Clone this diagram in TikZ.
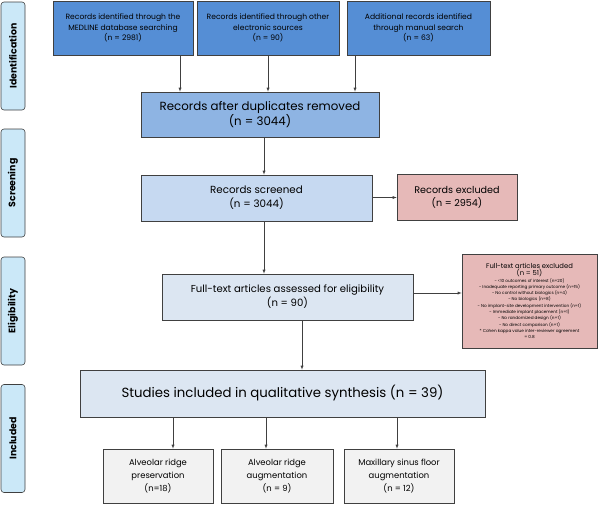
\documentclass[tikz,border=0pt]{standalone}
\usepackage{fontspec}
\setmainfont{Poppins}
\usepackage{tikz}
\usetikzlibrary{positioning}

\definecolor{idblue}{HTML}{558ED5}
\definecolor{dupblue}{HTML}{8EB4E3}
\definecolor{scrblue}{HTML}{C6D9F1}
\definecolor{paleblue}{HTML}{DCE6F2}
\definecolor{exclred}{HTML}{E6B9B8}
\definecolor{incgray}{HTML}{F2F2F2}
\definecolor{sideblue}{HTML}{CBE8F8}
\definecolor{edge}{HTML}{404040}

\begin{document}
\begin{tikzpicture}[
  x=1pt, y=-1pt,
  every node/.style={rectangle, draw=edge, line width=0.6pt, align=center, inner sep=2pt},
  idbox/.style={fill=idblue, minimum height=54pt, font=\fontsize{7.6}{10.5}\selectfont},
  exclbox/.style={fill=exclred},
  incbox/.style={fill=incgray, minimum width=110pt, minimum height=54pt, font=\fontsize{8.4}{13}\selectfont},
  phase/.style={rounded corners=3pt, fill=sideblue, rotate=90, minimum width=108pt, minimum height=24pt, font=\bfseries\fontsize{9.4}{10}\selectfont},
  >=latex
]
\useasboundingbox (0,0) rectangle (600,504);

% phase labels
\node[phase] (pid) at (13,56) {Identification};
\node[phase] (pscr) at (13,183) {Screening};
\node[phase] (pelig) at (13,311) {Eligibility};
\node[phase] (pinc) at (13,438.5) {Included};

% identification
\node[idbox, minimum width=140pt] (medline) at (123,28) {Records identified through the\\MEDLINE database searching\\(n = 2981)};
\node[idbox, minimum width=142pt] (other) at (268,28) {Records identified through other\\electronic sources\\(n = 90)};
\node[idbox, minimum width=143pt] (manual) at (418.5,28) {Additional records identified\\through manual search\\(n = 63)};
\node[fill=dupblue, minimum width=238pt, minimum height=45pt, font=\fontsize{11.8}{15}\selectfont] (dup) at (260,114.5) {Records after duplicates removed\\(n = 3044)};

% screening
\node[fill=scrblue, minimum width=231pt, minimum height=46pt, font=\fontsize{10.3}{14}\selectfont] (scr) at (256.5,198) {Records screened\\(n = 3044)};
\node[exclbox, minimum width=120pt, minimum height=46pt, font=\fontsize{9.6}{13}\selectfont] (excl) at (457,197) {Records excluded\\(n = 2954)};

% eligibility
\node[fill=paleblue, minimum width=251pt, minimum height=46pt, font=\fontsize{10.1}{14}\selectfont] (full) at (287.5,297) {Full-text articles assessed for eligibility\\(n = 90)};
\node[exclbox, minimum width=135pt, minimum height=94pt, font=\fontsize{4.2}{6.3}\selectfont] (fexcl) at (529.5,301) {{\fontsize{6.8}{7.5}\selectfont Full-text articles excluded}\\{\fontsize{6.8}{7.5}\selectfont (n = 51)}\\- <10 outcomes of interest (n=20)\\- Inadequate reporting primary outcome (n=15)\\- No control without biologics (n=4)\\- No biologics (n=8)\\- No implant-site development intervention (n=1)\\- Immediate implant placement (n=1)\\- No randomized design (n=1)\\- No direct comparison (n=1)\\* Cohen kappa value inter-reviewer agreement\\= 0.8};

% included
\node[fill=paleblue, minimum width=405pt, minimum height=47pt, font=\fontsize{13.3}{15}\selectfont] (stud) at (282.5,393.5) {Studies included in qualitative synthesis (n = 39)};
\node[incbox] (pres) at (158,476) {Alveolar ridge\\preservation\\(n=18)};
\node[incbox, minimum width=112pt] (aug) at (277,476) {Alveolar ridge\\augmentation\\(n = 9)};
\node[incbox] (sinus) at (399,476) {Maxillary sinus floor\\augmentation\\(n = 12)};

\draw[->, edge] (180,0 |- medline.south) -- (180,0 |- dup.north);
\draw[->, edge] (268,0 |- other.south) -- (268,0 |- dup.north);
\draw[->, edge] (355,0 |- manual.south) -- (355,0 |- dup.north);
\draw[->, edge] (264,0 |- dup.south) -- (264,0 |- scr.north);
\draw[->, edge] (scr.east |- 0,197.5) -- (excl.west |- 0,197.5);
\draw[->, edge] (264,0 |- scr.south) -- (264,0 |- full.north);
\draw[->, edge] (full.east |- 0,293) -- (fexcl.west |- 0,293);
\draw[->, edge] (302,0 |- full.south) -- (302,0 |- stud.north);
\draw[->, edge] (173,0 |- stud.south) -- (173,0 |- pres.north);
\draw[->, edge] (266,0 |- stud.south) -- (266,0 |- aug.north);
\draw[->, edge] (397,0 |- stud.south) -- (397,0 |- sinus.north);

\end{tikzpicture}
\end{document}
